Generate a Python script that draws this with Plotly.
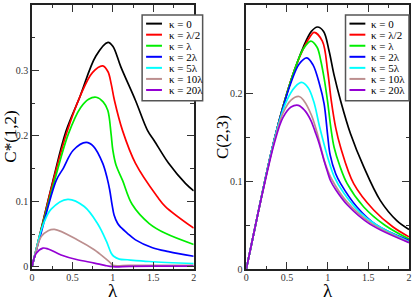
import plotly.graph_objects as go

# ---------------- data ----------------
labels = ["κ = 0", "κ = λ/2", "κ = λ", "κ = 2λ", "κ = 5λ", "κ = 10λ", "κ = 20λ"]
colors = ["#000000", "#ff0000", "#00ee00", "#0000ff", "#00ffff", "#bc8f8f", "#9400d3"]

# Left panel: C*(1,2) vs lambda
L_lam_k0 = [0, 0.1, 0.26, 0.42, 0.59, 0.79, 0.94, 1.0, 1.1, 1.28, 1.43, 1.51, 1.69, 1.9, 2.0]
L_c_k0 = [0, 0.051, 0.132, 0.207, 0.259, 0.322, 0.343, 0.337, 0.305, 0.254, 0.208, 0.193, 0.158, 0.127, 0.116]
L_lam_k1 = [0, 0.1, 0.26, 0.43, 0.6, 0.75, 0.875, 0.94, 0.98, 1.02, 1.12, 1.28, 1.55, 1.65, 2.0]
L_c_k1 = [0, 0.050, 0.130, 0.205, 0.262, 0.297, 0.307, 0.298, 0.279, 0.254, 0.208, 0.158, 0.107, 0.092, 0.059]
L_lam_k2 = [0, 0.1, 0.28, 0.45, 0.6, 0.7, 0.794, 0.88, 0.937, 0.978, 1.0, 1.04, 1.12, 1.24, 1.45, 1.65, 2.0]
L_c_k2 = [0, 0.049, 0.132, 0.203, 0.243, 0.256, 0.259, 0.252, 0.239, 0.203, 0.178, 0.155, 0.132, 0.095, 0.066, 0.051, 0.034]
L_lam_k3 = [0, 0.1, 0.3, 0.385, 0.51, 0.67, 0.76, 0.875, 0.93, 0.96, 0.99, 1.015, 1.06, 1.1, 1.18, 1.28, 1.49, 1.69, 2.0]
L_c_k3 = [0, 0.046, 0.132, 0.15, 0.178, 0.19, 0.184, 0.158, 0.135, 0.118, 0.095, 0.079, 0.066, 0.06, 0.051, 0.041, 0.029, 0.023, 0.016]
L_lam_k4 = [0, 0.1, 0.15, 0.237, 0.442, 0.646, 0.81, 0.92, 0.978, 1.01, 1.08, 1.18, 1.45, 2.0]
L_c_k4 = [0, 0.05, 0.068, 0.088, 0.103, 0.092, 0.066, 0.039, 0.021, 0.016, 0.0117, 0.0106, 0.008, 0.0046]
L_lam_k5 = [0, 0.05, 0.114, 0.2, 0.278, 0.564, 0.77, 0.834, 0.973, 1.0, 1.2, 1.5, 2.0]
L_c_k5 = [0, 0.024, 0.046, 0.055, 0.057, 0.041, 0.026, 0.02, 0.0056, 0.002, 0.002, 0.002, 0.002]
L_lam_k6 = [0, 0.05, 0.135, 0.2, 0.36, 0.55, 0.77, 0.9, 1.0, 1.2, 1.5, 2.0]
L_c_k6 = [0, 0.02, 0.0284, 0.027, 0.018, 0.011, 0.0056, 0.002, 0.0, 0.0005, 0.0008, 0.001]

# Right panel: C(2,3) vs lambda
R_lam_k0 = [0, 0.1, 0.2, 0.3, 0.4, 0.5, 0.6, 0.7, 0.8, 0.874, 0.95, 1.017, 1.08, 1.16, 1.28, 1.444, 1.646, 1.85, 2.0]
R_c_k0 = [0, 0.044, 0.088, 0.13, 0.167, 0.2, 0.228, 0.252, 0.27, 0.275, 0.27, 0.248, 0.22, 0.191, 0.154, 0.116, 0.078, 0.055, 0.045]
R_lam_k1 = [0, 0.1, 0.2, 0.3, 0.4, 0.5, 0.6, 0.7, 0.77, 0.834, 0.935, 1.0, 1.045, 1.1, 1.16, 1.32, 1.566, 1.8, 2.0]
R_c_k1 = [0, 0.044, 0.088, 0.13, 0.167, 0.2, 0.228, 0.25, 0.262, 0.269, 0.259, 0.225, 0.191, 0.16, 0.138, 0.097, 0.067, 0.048, 0.0365]
R_lam_k2 = [0, 0.1, 0.2, 0.3, 0.4, 0.5, 0.6, 0.7, 0.793, 0.87, 0.915, 0.96, 1.0, 1.04, 1.08, 1.15, 1.24, 1.444, 1.7, 2.0]
R_c_k2 = [0, 0.044, 0.088, 0.13, 0.167, 0.2, 0.228, 0.25, 0.259, 0.252, 0.237, 0.215, 0.19, 0.16, 0.138, 0.117, 0.097, 0.0705, 0.05, 0.034]
R_lam_k3 = [0, 0.1, 0.2, 0.3, 0.4, 0.55, 0.65, 0.744, 0.82, 0.9, 0.956, 1.0, 1.03, 1.1, 1.16, 1.36, 1.6, 2.0]
R_c_k3 = [0, 0.044, 0.088, 0.13, 0.167, 0.212, 0.233, 0.240, 0.232, 0.21, 0.188, 0.152, 0.13, 0.108, 0.097, 0.0705, 0.05, 0.0325]
R_lam_k4 = [0, 0.1, 0.2, 0.3, 0.4, 0.5, 0.6, 0.68, 0.76, 0.83, 0.9, 0.976, 1.0, 1.08, 1.2, 1.4, 1.6, 2.0]
R_c_k4 = [0, 0.044, 0.088, 0.13, 0.166, 0.192, 0.207, 0.212, 0.206, 0.19, 0.162, 0.135, 0.127, 0.105, 0.086, 0.064, 0.05, 0.031]
R_lam_k5 = [0, 0.1, 0.2, 0.35, 0.45, 0.55, 0.65, 0.71, 0.8, 0.87, 0.93, 0.97, 1.05, 1.24, 1.52, 2.0]
R_c_k5 = [0, 0.044, 0.087, 0.147, 0.177, 0.192, 0.196, 0.191, 0.175, 0.155, 0.133, 0.12, 0.102, 0.076, 0.053, 0.0305]
R_lam_k6 = [0, 0.1, 0.2, 0.35, 0.45, 0.55, 0.64, 0.72, 0.793, 0.85, 0.895, 0.956, 1.0, 1.037, 1.1, 1.24, 1.52, 2.0]
R_c_k6 = [0, 0.044, 0.087, 0.145, 0.172, 0.184, 0.186, 0.18, 0.169, 0.155, 0.143, 0.123, 0.11, 0.10, 0.09, 0.073, 0.051, 0.030]

left_series = [(L_lam_k0, L_c_k0), (L_lam_k1, L_c_k1), (L_lam_k2, L_c_k2), (L_lam_k3, L_c_k3),
               (L_lam_k4, L_c_k4), (L_lam_k5, L_c_k5), (L_lam_k6, L_c_k6)]
right_series = [(R_lam_k0, R_c_k0), (R_lam_k1, R_c_k1), (R_lam_k2, R_c_k2), (R_lam_k3, R_c_k3),
                (R_lam_k4, R_c_k4), (R_lam_k5, R_c_k5), (R_lam_k6, R_c_k6)]

# ---------------- layout geometry ----------------
W, H = 415, 302
ML, MR, MT, MB = 32, 3, 4, 33
PW, PH = W - ML - MR, H - MT - MB
SERIF = "Liberation Serif"


def px2x(px):
    return (px - ML) / PW


def py2y(py):
    return (H - MB - py) / PH


fig = go.Figure()
for i, (lx, cy) in enumerate(left_series):
    fig.add_trace(go.Scatter(x=lx, y=cy, mode="lines", name=labels[i], showlegend=False,
                             line=dict(color=colors[i], width=1.7, shape="spline", smoothing=1.0),
                             xaxis="x", yaxis="y"))
for i, (lx, cy) in enumerate(right_series):
    fig.add_trace(go.Scatter(x=lx, y=cy, mode="lines", name=labels[i], showlegend=False,
                             line=dict(color=colors[i], width=1.7, shape="spline", smoothing=1.0),
                             xaxis="x2", yaxis="y2"))

axis_common = dict(showline=True, linecolor="#222", linewidth=1.5, mirror="ticks",
                   ticks="inside", ticklen=7, tickwidth=1, tickcolor="#333",
                   showgrid=False, zeroline=False,
                   tickfont=dict(family=SERIF, size=10, color="#333"))

fig.update_layout(
    width=W, height=H, margin=dict(l=ML, r=MR, t=MT, b=MB),
    paper_bgcolor="white", plot_bgcolor="white", showlegend=False,
    font=dict(family=SERIF),
    xaxis=dict(domain=[0, px2x(195)], range=[0, 2], dtick=0.5, tick0=0, ticklabelstandoff=-2,
               minor=dict(ticks="inside", ticklen=3.5, dtick=0.25, tickcolor="#333"),
               anchor="y", **axis_common),
    yaxis=dict(domain=[0, 1], range=[-0.0035, 0.4], dtick=0.1, tick0=0,
               minor=dict(ticks="inside", ticklen=3.5, dtick=0.05, tickcolor="#333"),
               anchor="x", **axis_common),
    xaxis2=dict(domain=[px2x(248), 1], range=[0, 2], dtick=0.5, tick0=0, ticklabelstandoff=-2,
                minor=dict(ticks="inside", ticklen=3.5, dtick=0.25, tickcolor="#333"),
                anchor="y2", **axis_common),
    yaxis2=dict(domain=[0, 1], range=[0, 0.3], dtick=0.1, tick0=0,
                minor=dict(ticks="inside", ticklen=3.5, dtick=0.05, tickcolor="#333"),
                anchor="x2", **axis_common),
)

annotations = []
shapes = []
# axis titles
annotations.append(dict(text="C*(1,2)", x=px2x(10), y=py2y(136), xref="paper", yref="paper",
                        showarrow=False, textangle=-90, font=dict(family=SERIF, size=17, color="#000"),
                        xanchor="center", yanchor="middle"))
annotations.append(dict(text="C(2,3)", x=px2x(224), y=py2y(136), xref="paper", yref="paper",
                        showarrow=False, textangle=-90, font=dict(family=SERIF, size=17, color="#000"),
                        xanchor="center", yanchor="middle"))
for cx in (113.5, 330):
    annotations.append(dict(text="λ", x=px2x(cx), y=py2y(302), xref="paper", yref="paper",
                            showarrow=False, font=dict(family=SERIF, size=19, color="#000"),
                            xanchor="center", yanchor="bottom", borderpad=0))

# manual legends (box, line samples, labels)
for box_l, box_r, ln0, ln1, tx in ((143, 204, 147, 163, 168), (348, 412, 352, 368, 372)):
    shapes.append(dict(type="rect", xref="paper", yref="paper",
                       x0=px2x(box_l), x1=px2x(box_r), y0=py2y(100), y1=py2y(14),
                       line=dict(color="#555", width=1.5), fillcolor="white", layer="above"))
    for i, lab in enumerate(labels):
        yy = 22.7 + i * 11.1
        shapes.append(dict(type="line", xref="paper", yref="paper",
                           x0=px2x(ln0), x1=px2x(ln1), y0=py2y(yy), y1=py2y(yy),
                           line=dict(color=colors[i], width=2), layer="above"))
        annotations.append(dict(text=lab, x=px2x(tx), y=py2y(yy), xref="paper", yref="paper",
                                showarrow=False, xanchor="left", yanchor="middle",
                                font=dict(family=SERIF, size=11, color="#000")))

fig.update_layout(annotations=annotations, shapes=shapes)
fig.write_html("out.html", config={"displayModeBar": False},
               post_script="document.body.style.margin='0';")
